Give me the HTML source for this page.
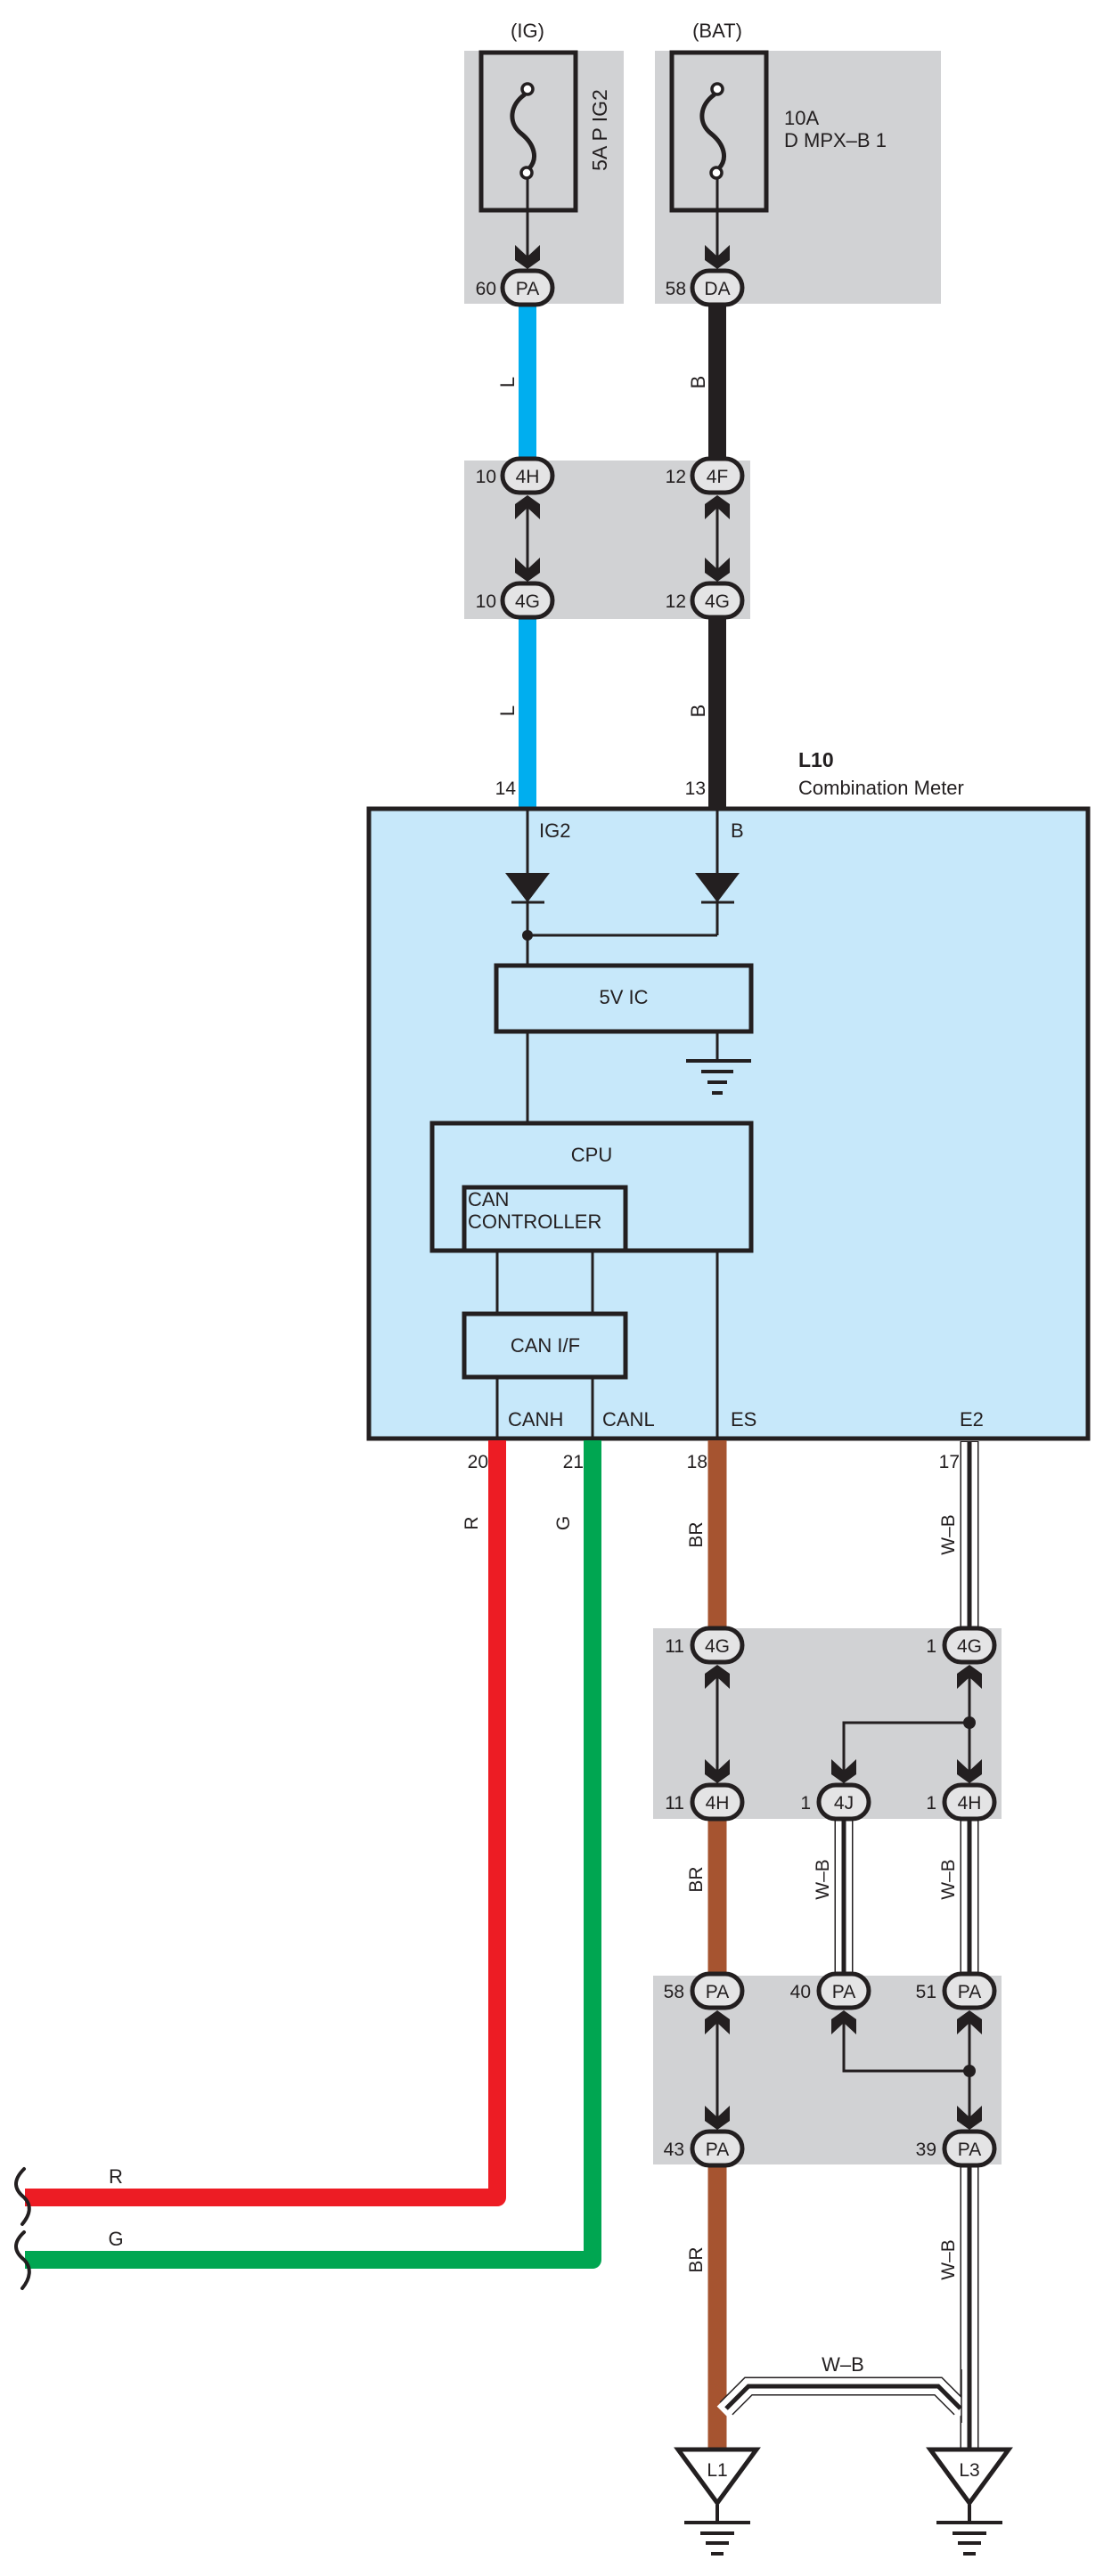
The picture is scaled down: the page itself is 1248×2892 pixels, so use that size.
<!DOCTYPE html>
<html><head><meta charset="utf-8"><style>
html,body{margin:0;padding:0;background:#fff}
svg{display:block}
text{font-family:"Liberation Sans",Arial,sans-serif;fill:#231f20}
</style></head><body>
<svg width="1248" height="2892" viewBox="0 0 1248 2892" xmlns="http://www.w3.org/2000/svg">
<defs>
<g id="ad"><polygon points="-14,-27 0,-14 14,-27 14,-10 0,0 -14,-10" fill="#231f20"/></g>
<g id="au"><polygon points="-14,27 0,14 14,27 14,10 0,0 -14,10" fill="#231f20"/></g>
</defs>

<!-- gray boxes -->
<rect x="521" y="57" width="179" height="284" fill="#d1d2d4"/>
<rect x="735" y="57" width="321" height="284" fill="#d1d2d4"/>
<rect x="521" y="517" width="321" height="178" fill="#d1d2d4"/>
<rect x="733" y="1828" width="391" height="214" fill="#d1d2d4"/>
<rect x="733" y="2218" width="391" height="212" fill="#d1d2d4"/>

<text x="592" y="42" font-size="22" text-anchor="middle">(IG)</text>
<text x="805" y="42" font-size="22" text-anchor="middle">(BAT)</text>

<!-- fuses -->
<rect x="540" y="59" width="106" height="177" fill="none" stroke="#231f20" stroke-width="5"/>
<rect x="754" y="59" width="106" height="177" fill="none" stroke="#231f20" stroke-width="5"/>
<g fill="none" stroke="#231f20" stroke-width="5">
<path d="M589,106 C572,118 570,138 585,150 C600,162 604,178 594,189"/>
<path d="M802,106 C785,118 783,138 798,150 C813,162 817,178 807,189"/>
</g>
<g fill="#fff" stroke="#231f20" stroke-width="3.5">
<circle cx="592" cy="100" r="6"/><circle cx="591" cy="194" r="6"/>
<circle cx="805" cy="100" r="6"/><circle cx="804" cy="194" r="6"/>
</g>
<line x1="592" y1="200" x2="592" y2="300" stroke="#231f20" stroke-width="3"/>
<line x1="805" y1="200" x2="805" y2="300" stroke="#231f20" stroke-width="3"/>
<use href="#ad" x="592" y="302"/><use href="#ad" x="805" y="302"/>
<text transform="translate(681,146) rotate(-90)" font-size="23" text-anchor="middle">5A P IG2</text>
<text x="880" y="140" font-size="22">10A</text>
<text x="880" y="165" font-size="22">D MPX–B 1</text>

<!-- top wires -->
<line x1="592" y1="330" x2="592" y2="530" stroke="#00aeef" stroke-width="20"/>
<line x1="805" y1="330" x2="805" y2="530" stroke="#231f20" stroke-width="20"/>
<line x1="592" y1="680" x2="592" y2="906" stroke="#00aeef" stroke-width="20"/>
<line x1="805" y1="680" x2="805" y2="906" stroke="#231f20" stroke-width="20"/>
<text transform="translate(577,429) rotate(-90)" font-size="22" text-anchor="middle">L</text>
<text transform="translate(791,429) rotate(-90)" font-size="22" text-anchor="middle">B</text>
<text transform="translate(577,798) rotate(-90)" font-size="22" text-anchor="middle">L</text>
<text transform="translate(791,798) rotate(-90)" font-size="22" text-anchor="middle">B</text>

<!-- box2 links -->
<line x1="592" y1="560" x2="592" y2="650" stroke="#231f20" stroke-width="3"/>
<line x1="805" y1="560" x2="805" y2="650" stroke="#231f20" stroke-width="3"/>
<use href="#au" x="592" y="556"/><use href="#ad" x="592" y="653"/>
<use href="#au" x="805" y="556"/><use href="#ad" x="805" y="653"/>

<!-- connectors top -->
<g stroke="#231f20" stroke-width="5" fill="#e4e4e5">
<rect x="564" y="304" width="56" height="38" rx="19"/>
<rect x="777" y="304" width="56" height="38" rx="19"/>
<rect x="564" y="515" width="56" height="38" rx="19"/>
<rect x="777" y="515" width="56" height="38" rx="19"/>
<rect x="564" y="655" width="56" height="38" rx="19"/>
<rect x="777" y="655" width="56" height="38" rx="19"/>
</g>
<g font-size="21" text-anchor="middle">
<text x="592" y="331">PA</text><text x="805" y="331">DA</text>
<text x="592" y="542">4H</text><text x="805" y="542">4F</text>
<text x="592" y="682">4G</text><text x="805" y="682">4G</text>
</g>
<g font-size="21" text-anchor="end">
<text x="557" y="331">60</text><text x="770" y="331">58</text>
<text x="557" y="542">10</text><text x="770" y="542">12</text>
<text x="557" y="682">10</text><text x="770" y="682">12</text>
</g>

<!-- L10 label -->
<text x="896" y="861" font-size="23" font-weight="bold">L10</text>
<text x="896" y="892" font-size="22">Combination Meter</text>
<text x="579" y="892" font-size="21" text-anchor="end">14</text>
<text x="792" y="892" font-size="21" text-anchor="end">13</text>

<!-- meter box -->
<rect x="414" y="908" width="807" height="707" fill="#c7e8fa" stroke="#231f20" stroke-width="5"/>
<g stroke="#231f20" stroke-width="3" fill="none">
<line x1="592" y1="910" x2="592" y2="1084"/>
<line x1="805" y1="910" x2="805" y2="1050"/>
<line x1="592" y1="1050" x2="805" y2="1050"/>
<line x1="574" y1="1013" x2="611" y2="1013"/>
<line x1="787" y1="1013" x2="824" y2="1013"/>
<line x1="805" y1="1158" x2="805" y2="1191"/>
<line x1="592" y1="1158" x2="592" y2="1261"/>
<line x1="558" y1="1404" x2="558" y2="1475"/>
<line x1="665" y1="1404" x2="665" y2="1475"/>
<line x1="558" y1="1546" x2="558" y2="1615"/>
<line x1="665" y1="1546" x2="665" y2="1615"/>
<line x1="805" y1="1404" x2="805" y2="1615"/>
</g>
<polygon points="567,980 617,980 592,1013" fill="#231f20"/>
<polygon points="780,980 830,980 805,1013" fill="#231f20"/>
<circle cx="592" cy="1050" r="6" fill="#231f20"/>
<g stroke="#231f20" stroke-width="4">
<line x1="770" y1="1191" x2="843" y2="1191"/>
<line x1="787" y1="1203" x2="823" y2="1203"/>
<line x1="794" y1="1215" x2="816" y2="1215"/>
<line x1="799" y1="1227" x2="811" y2="1227"/>
</g>
<g fill="none" stroke="#231f20" stroke-width="5">
<rect x="557" y="1084" width="286" height="74"/>
<rect x="485" y="1261" width="358" height="143"/>
<rect x="521" y="1333" width="181" height="71"/>
<rect x="521" y="1475" width="181" height="71"/>
</g>
<g font-size="22">
<text x="605" y="940">IG2</text>
<text x="820" y="940">B</text>
<text x="700" y="1127" text-anchor="middle">5V IC</text>
<text x="664" y="1304" text-anchor="middle">CPU</text>
<text x="525" y="1354">CAN</text>
<text x="525" y="1379">CONTROLLER</text>
<text x="612" y="1518" text-anchor="middle">CAN I/F</text>
<text x="570" y="1601">CANH</text>
<text x="676" y="1601">CANL</text>
<text x="820" y="1601">ES</text>
<text x="1077" y="1601">E2</text>
</g>

<!-- bottom pins -->
<g font-size="21" text-anchor="end">
<text x="548" y="1648">20</text><text x="655" y="1648">21</text>
<text x="794" y="1648">18</text><text x="1077" y="1648">17</text>
</g>

<!-- red/green -->
<path d="M558,1617 V2467 H28" fill="none" stroke="#ed1c24" stroke-width="20" stroke-linejoin="round"/>
<path d="M665,1617 V2537 H28" fill="none" stroke="#00a651" stroke-width="20" stroke-linejoin="round"/>
<g fill="none" stroke="#231f20" stroke-width="4" stroke-linecap="round">
<path d="M27,2435 C14,2448 16,2458 27,2467 C36,2476 34,2486 25,2497"/>
<path d="M27,2506 C14,2518 16,2528 27,2537 C36,2546 34,2558 25,2569"/>
</g>
<text x="130" y="2451" font-size="22" text-anchor="middle">R</text>
<text x="130" y="2521" font-size="22" text-anchor="middle">G</text>
<text transform="translate(536,1710) rotate(-90)" font-size="21" text-anchor="middle">R</text>
<text transform="translate(639,1710) rotate(-90)" font-size="21" text-anchor="middle">G</text>

<!-- brown -->
<line x1="805" y1="1617" x2="805" y2="1840" stroke="#a65430" stroke-width="21"/>
<line x1="805" y1="2030" x2="805" y2="2240" stroke="#a65430" stroke-width="21"/>
<line x1="805" y1="2410" x2="805" y2="2750" stroke="#a65430" stroke-width="21"/>
<text transform="translate(788,1723) rotate(-90)" font-size="21" text-anchor="middle">BR</text>
<text transform="translate(788,2110) rotate(-90)" font-size="21" text-anchor="middle">BR</text>
<text transform="translate(788,2537) rotate(-90)" font-size="21" text-anchor="middle">BR</text>

<!-- W-B double wires -->
<g fill="none" stroke-linejoin="miter">
<g stroke="#231f20" stroke-width="21">
<line x1="1088" y1="1618" x2="1088" y2="1840"/>
<line x1="1088" y1="2030" x2="1088" y2="2240"/>
<line x1="947" y1="2030" x2="947" y2="2240"/>
<line x1="1088" y1="2410" x2="1088" y2="2748"/>
<path d="M815,2704 L840,2679 H1053 L1078,2704"/>
</g>
<g stroke="#fff" stroke-width="18">
<line x1="1088" y1="1619" x2="1088" y2="1840"/>
<line x1="1088" y1="2030" x2="1088" y2="2240"/>
<line x1="947" y1="2030" x2="947" y2="2240"/>
<line x1="1088" y1="2410" x2="1088" y2="2748"/>
<path d="M811,2708 L840,2679 H1053 L1082,2708"/>
</g>
<line x1="1088" y1="2410" x2="1088" y2="2748" stroke="#fff" stroke-width="18"/>
<g stroke="#231f20" stroke-width="5">
<line x1="1088" y1="1618" x2="1088" y2="1840"/>
<line x1="1088" y1="2030" x2="1088" y2="2240"/>
<line x1="947" y1="2030" x2="947" y2="2240"/>
<line x1="1088" y1="2410" x2="1088" y2="2748"/>
<path d="M815,2704 L840,2679 H1053 L1078,2704"/>
</g>
</g>
<line x1="1079" y1="2660" x2="1079" y2="2720" stroke="#231f20" stroke-width="1.5"/>
<text x="946" y="2662" font-size="22" text-anchor="middle">W–B</text>
<g font-size="21" text-anchor="middle">
<text transform="translate(1071,1723) rotate(-90)">W–B</text>
<text transform="translate(1071,2110) rotate(-90)">W–B</text>
<text transform="translate(930,2110) rotate(-90)">W–B</text>
<text transform="translate(1071,2537) rotate(-90)">W–B</text>
</g>

<!-- junction box 3 -->
<g stroke="#231f20" stroke-width="3" fill="none">
<line x1="805" y1="1872" x2="805" y2="2000"/>
<line x1="1088" y1="1872" x2="1088" y2="2000"/>
<path d="M1088,1934 H947 V2000"/>
<line x1="805" y1="2260" x2="805" y2="2388"/>
<line x1="1088" y1="2260" x2="1088" y2="2388"/>
<path d="M1088,2325 H947 V2260"/>
</g>
<circle cx="1088" cy="1934" r="7" fill="#231f20"/>
<circle cx="1088" cy="2325" r="7" fill="#231f20"/>
<use href="#au" x="805" y="1869"/><use href="#au" x="1088" y="1869"/>
<use href="#ad" x="805" y="2002"/><use href="#ad" x="947" y="2002"/><use href="#ad" x="1088" y="2002"/>
<use href="#au" x="805" y="2257"/><use href="#au" x="947" y="2257"/><use href="#au" x="1088" y="2257"/>
<use href="#ad" x="805" y="2391"/><use href="#ad" x="1088" y="2391"/>

<g stroke="#231f20" stroke-width="5" fill="#e4e4e5">
<rect x="777" y="1828" width="56" height="38" rx="19"/>
<rect x="1060" y="1828" width="56" height="38" rx="19"/>
<rect x="777" y="2004" width="56" height="38" rx="19"/>
<rect x="919" y="2004" width="56" height="38" rx="19"/>
<rect x="1060" y="2004" width="56" height="38" rx="19"/>
<rect x="777" y="2216" width="56" height="38" rx="19"/>
<rect x="919" y="2216" width="56" height="38" rx="19"/>
<rect x="1060" y="2216" width="56" height="38" rx="19"/>
<rect x="777" y="2393" width="56" height="38" rx="19"/>
<rect x="1060" y="2393" width="56" height="38" rx="19"/>
</g>
<g font-size="21" text-anchor="middle">
<text x="805" y="1855">4G</text><text x="1088" y="1855">4G</text>
<text x="805" y="2031">4H</text><text x="947" y="2031">4J</text><text x="1088" y="2031">4H</text>
<text x="805" y="2243">PA</text><text x="947" y="2243">PA</text><text x="1088" y="2243">PA</text>
<text x="805" y="2420">PA</text><text x="1088" y="2420">PA</text>
</g>
<g font-size="21" text-anchor="end">
<text x="768" y="1855">11</text><text x="1051" y="1855">1</text>
<text x="768" y="2031">11</text><text x="910" y="2031">1</text><text x="1051" y="2031">1</text>
<text x="768" y="2243">58</text><text x="910" y="2243">40</text><text x="1051" y="2243">51</text>
<text x="768" y="2420">43</text><text x="1051" y="2420">39</text>
</g>

<!-- grounds -->
<g fill="#fff" stroke="#231f20" stroke-width="5" stroke-linejoin="miter">
<polygon points="761,2750 849,2750 805,2810"/>
<polygon points="1044,2750 1132,2750 1088,2810"/>
</g>
<g stroke="#231f20" stroke-width="4">
<line x1="805" y1="2812" x2="805" y2="2832"/><line x1="1088" y1="2812" x2="1088" y2="2832"/>
<line x1="768" y1="2832" x2="842" y2="2832"/><line x1="1051" y1="2832" x2="1125" y2="2832"/>
<line x1="786" y1="2844" x2="824" y2="2844"/><line x1="1069" y1="2844" x2="1107" y2="2844"/>
<line x1="792" y1="2855" x2="818" y2="2855"/><line x1="1075" y1="2855" x2="1101" y2="2855"/>
<line x1="798" y1="2867" x2="812" y2="2867"/><line x1="1081" y1="2867" x2="1095" y2="2867"/>
</g>
<text x="805" y="2780" font-size="21" text-anchor="middle">L1</text>
<text x="1088" y="2780" font-size="21" text-anchor="middle">L3</text>
</svg>
</body></html>
